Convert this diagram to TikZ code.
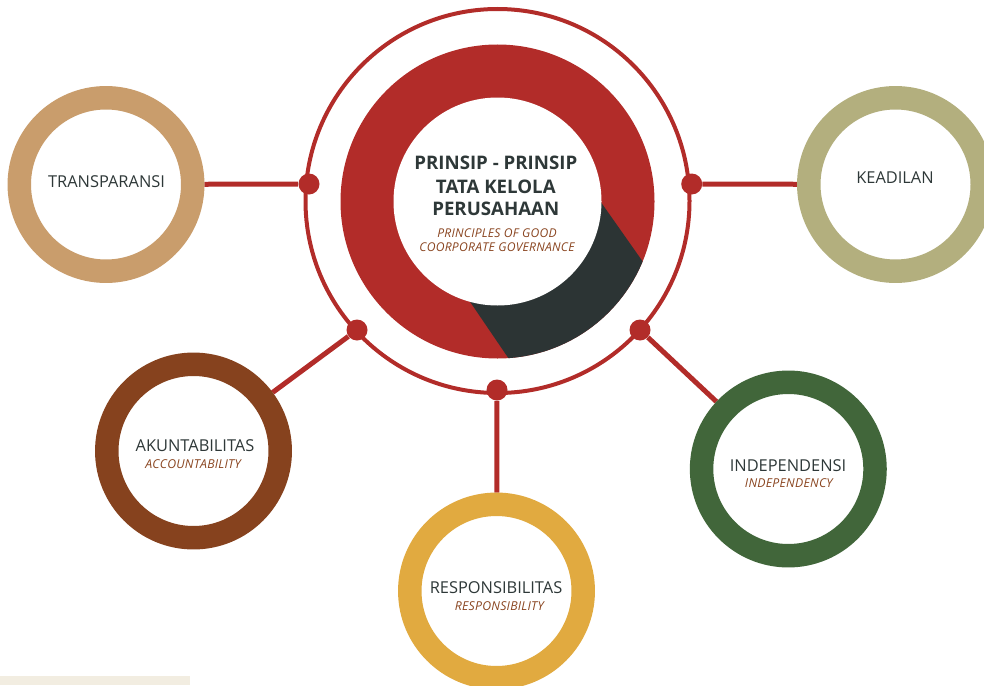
\documentclass[tikz,border=0pt]{standalone}
\usepackage{fontspec}
\setmainfont{Open Sans}
\pgfdeclarelayer{back}
\pgfsetlayers{back,main}
\definecolor{gcgred}{HTML}{B22C29}
\definecolor{gcgdark}{HTML}{2C3434}
\definecolor{txtdark}{HTML}{2E3838}
\definecolor{subbrown}{HTML}{8A4520}
\definecolor{ctan}{HTML}{C99D6C}
\definecolor{colive}{HTML}{B3AF7E}
\definecolor{cbrown}{HTML}{86421E}
\definecolor{cgreen}{HTML}{41663A}
\definecolor{cgold}{HTML}{E1AA40}
\definecolor{stripcol}{HTML}{F2EDE1}
\begin{document}
\begin{tikzpicture}[x=0.75pt,y=-0.75pt,
  ringnode/.style={circle, inner sep=0pt, minimum size=130.1pt, line width=17.6pt, fill=white, draw=#1},
  junction/.style={circle, inner sep=0pt, minimum size=15.75pt, fill=gcgred},
  link/.style={draw=gcgred, line width=3.75pt},
  lbl/.style={font=\fontsize{12.3}{14}\selectfont, text=txtdark, inner sep=0pt},
  sublbl/.style={font=\fontsize{9.2}{11}\selectfont\itshape\addfontfeature{LetterSpace=2}, text=subbrown, inner sep=0pt},
  ttl/.style={font=\fontsize{14}{16}\selectfont\bfseries, text=txtdark, inner sep=0pt},
  ttlsub/.style={font=\fontsize{9.1}{11}\selectfont\itshape\addfontfeature{LetterSpace=2}, text=subbrown, inner sep=0pt}]
\useasboundingbox (0,0) rectangle (984,685);

% footer strip
\fill[stripcol] (0,676) rectangle (190,685);

% thin outer ring of the centre
\node[circle, draw=gcgred, line width=3pt, minimum size=288pt, inner sep=0pt] (hub) at (497.5,201) {};

% donut with dark slice
\fill[gcgred] (497.5,201.5) circle (157);
\begin{scope}
  \clip (497.5,201.5) circle (157);
  \fill[gcgdark] (560,144) -- (700,343) -- (551,420.8) -- (430,242.9) -- cycle;
\end{scope}
\node[circle, fill=white, inner sep=0pt, minimum size=156pt] (core) at (497.5,201.5) {};

% title
\node[ttl] (t1) at (495.8,163.3) {PRINSIP - PRINSIP};
\node[ttl] (t2) at (495.8,186.7) {TATA KELOLA};
\node[ttl] (t3) at (495.8,209.3) {PERUSAHAAN};
\node[ttlsub] (t4) at (497,233.3) {PRINCIPLES OF GOOD};
\node[ttlsub] (t5) at (497,246.7) {COORPORATE GOVERNANCE};

% junction dots on the ring
\node[junction] (jL) at (309,184) {};
\node[junction] (jR) at (691.7,184) {};
\node[junction] (jLL) at (357,330) {};
\node[junction] (jLR) at (640,330) {};
\node[junction] (jB) at (497,390) {};

% principle circles
\node[ringnode=ctan] (cTrans) at (106,184.5) {};
\node[ringnode=colive] (cKead) at (895.5,184.5) {};
\node[ringnode=cbrown] (cAkun) at (193.5,451) {};
\node[ringnode=cgreen] (cInd) at (788.3,469) {};
\node[ringnode=cgold] (cResp) at (496.5,591) {};

% connectors
\begin{pgfonlayer}{back}
  \draw[link] (jL) -- (cTrans);
  \draw[link] (jR) -- (cKead);
  \draw[link] (jLL) -- (cAkun);
  \draw[link] (jLR) -- (cInd);
  \draw[link] (jB) -- (cResp);
\end{pgfonlayer}

% labels
\node[lbl] (lTrans) at (106.5,182) {TRANSPARANSI};
\node[lbl] (lKead) at (895,178) {KEADILAN};
\node[lbl] (lAkun) at (195,446) {AKUNTABILITAS};
\node[sublbl] (sAkun) at (193,464) {ACCOUNTABILITY};
\node[lbl] (lInd) at (788,466) {INDEPENDENSI};
\node[sublbl] (sInd) at (788.8,482.7) {INDEPENDENCY};
\node[lbl] (lResp) at (496,588) {RESPONSIBILITAS};
\node[sublbl] (sResp) at (499.3,606) {RESPONSIBILITY};
\end{tikzpicture}
\end{document}
